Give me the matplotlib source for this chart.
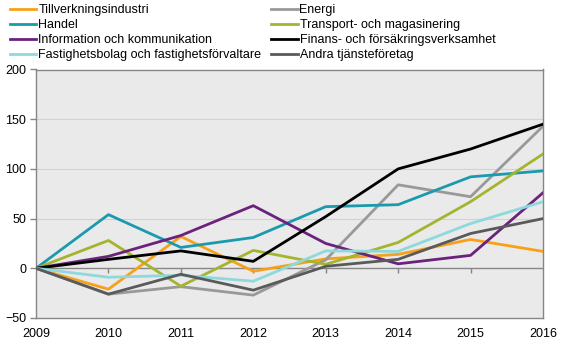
import numpy as np
import matplotlib.pyplot as plt

plt.rcParams['font.family'] = ['Liberation Sans', 'DejaVu Sans']

years = [2009, 2010, 2011, 2012, 2013, 2014, 2015, 2016]

tillverkning = [0, -21, 32, -3, 9.5, 14, 29, 17]
energi = [0, -26, -18.5, -27, 8.5, 84, 72, 143]
handel = [0, 54, 21, 31, 62, 64, 92, 98]
transport = [0, 28, -18, 18, 4, 26, 67, 115]
information = [0, 12, 33, 63, 25, 4.5, 13, 76]
finans = [0, 9, 17.5, 7, 52, 100, 120, 145]
fastighet = [0, -9, -7, -13, 17.5, 17, 45, 67]
andra = [0, -26, -6, -22, 2, 9, 35, 50]

series = [
    ("Tillverkningsindustri", tillverkning, "#F7A11A"),
    ("Energi", energi, "#999999"),
    ("Handel", handel, "#1B9AAE"),
    ("Transport- och magasinering", transport, "#A5B42F"),
    ("Information och kommunikation", information, "#6C227C"),
    ("Finans- och försäkringsverksamhet", finans, "#000000"),
    ("Fastighetsbolag och fastighetsförvaltare", fastighet, "#8DD9DC"),
    ("Andra tjänsteföretag", andra, "#5A5A5A"),
]

fig = plt.figure(figsize=(5.66, 3.44), dpi=100)
ax = fig.add_axes([36 / 566, 1 - 318 / 344, 507 / 566, 248.5 / 344])
ax.set_facecolor("#EAEAEA")

handles = {}
for name, vals, col in series:
    ln, = ax.plot(years, vals, color=col, lw=2.0, label=name, zorder=3)
    handles[name] = ln

ax.set_xlim(2009, 2016)
ax.set_ylim(-50, 200)
ax.set_yticks([-50, 0, 50, 100, 150, 200])
ax.set_xticks(years)

# grid and zero line
for v in [50, 100, 150]:
    ax.axhline(v, color="#D2D2D2", lw=0.8, zorder=1)
ax.axhline(0, color="#868686", lw=1.0, zorder=2)
ax.vlines(years[1:-1], -5, 0, color="#868686", lw=1.0, zorder=2)

for s in ax.spines.values():
    s.set_color("#868686")
    s.set_linewidth(1.0)

ax.tick_params(axis="y", length=4, width=1, color="#868686", labelsize=9, pad=3)
ax.tick_params(axis="x", length=0, labelsize=9, pad=7)

# legend filled row by row
order = ["Tillverkningsindustri", "Handel", "Information och kommunikation",
         "Fastighetsbolag och fastighetsförvaltare",
         "Energi", "Transport- och magasinering",
         "Finans- och försäkringsverksamhet", "Andra tjänsteföretag"]
fig.legend([handles[n] for n in order], order, loc="upper left",
           bbox_to_anchor=(10 / 566, 1 - 4 / 344), ncol=2, frameon=False,
           fontsize=9, handlelength=2.1, handletextpad=0.16,
           columnspacing=0.8, labelspacing=0.24, borderpad=0.0,
           borderaxespad=0.0)

fig.savefig("out.png", dpi=100)
